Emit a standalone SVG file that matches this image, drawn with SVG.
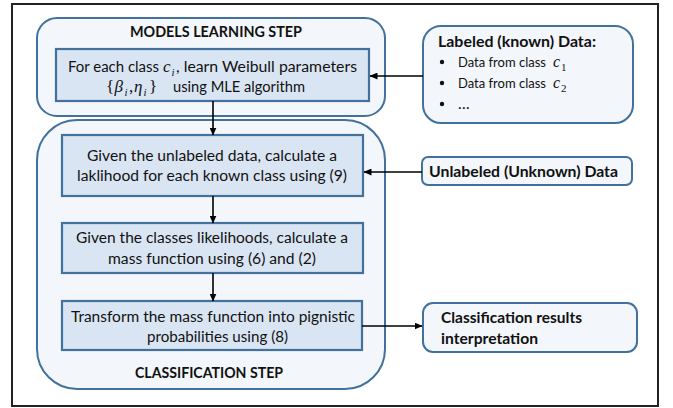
<svg xmlns="http://www.w3.org/2000/svg" width="673" height="408" viewBox="0 0 673 408">
<style>
.t{font-family:Lato,'Liberation Sans',sans-serif;font-size:15.5px;fill:#111}
.b{font-weight:bold}
.li{font-size:13.8px}
.m{font-family:'Liberation Serif','DejaVu Serif',serif;font-style:italic;font-size:17px}
.mc{font-family:'Liberation Serif','DejaVu Serif',serif;font-style:italic;font-size:16px}
.mu{font-family:'Liberation Serif','DejaVu Serif',serif;font-style:normal;font-size:17px}
.s{font-family:'Liberation Serif','DejaVu Serif',serif;font-style:italic;font-size:11px}
.su{font-family:'Liberation Serif','DejaVu Serif',serif;font-style:normal;font-size:11px}
.outer{fill:#f3f6fa;stroke:#41719c;stroke-width:2}
.inner{fill:#dae5f3;stroke:#41719c;stroke-width:2.2}
.conn line{stroke:#000;stroke-width:1.6;fill:none;marker-end:url(#ah)}
</style>
<defs>
<marker id="ah" markerUnits="userSpaceOnUse" markerWidth="8" markerHeight="7" refX="7.5" refY="3.5" orient="auto">
<path d="M0,0 L8,3.5 L0,7 z" fill="#000"/>
</marker>
</defs>
<rect x="12" y="4" width="646" height="402" fill="#fff" stroke="#222" stroke-width="2"/>

<g id="models-step">
<rect class="outer" x="37" y="18" width="348" height="98" rx="20"/>
<text class="t b" x="130" y="37" textLength="172" lengthAdjust="spacingAndGlyphs">MODELS LEARNING STEP</text>
</g>
<g id="learn-weibull">
<rect class="inner" x="56" y="49" width="313" height="52"/>
<text class="t" x="68" y="72"><tspan textLength="91" lengthAdjust="spacingAndGlyphs">For each class</tspan><tspan class="m" x="163">c</tspan><tspan class="s" x="171.5" y="76">i</tspan><tspan x="176" y="72" textLength="181" lengthAdjust="spacingAndGlyphs">, learn Weibull parameters</tspan></text>
<text class="t" x="106" y="92"><tspan class="mu">{</tspan><tspan class="m" x="114.5">β</tspan><tspan class="s" x="124.5" y="96">i</tspan><tspan class="mu" x="129" y="92">,</tspan><tspan class="m" x="134">η</tspan><tspan class="s" x="143.5" y="96">i</tspan><tspan class="mu" x="149" y="92">}</tspan><tspan x="173" textLength="132" lengthAdjust="spacingAndGlyphs">using MLE algorithm</tspan></text>
</g>

<g id="classification-step">
<rect class="outer" x="37" y="120" width="348" height="269" rx="40"/>
<text class="t b" x="135" y="378" textLength="148" lengthAdjust="spacingAndGlyphs">CLASSIFICATION STEP</text>
</g>
<g id="likelihood">
<rect class="inner" x="62" y="135" width="301" height="61"/>
<text class="t" x="87" y="161" textLength="250" lengthAdjust="spacingAndGlyphs">Given the unlabeled data, calculate a</text>
<text class="t" x="77" y="181" textLength="270" lengthAdjust="spacingAndGlyphs">laklihood for each known class using (9)</text>
</g>
<g id="mass-function">
<rect class="inner" x="62" y="223" width="301" height="50"/>
<text class="t" x="76" y="243" textLength="272" lengthAdjust="spacingAndGlyphs">Given the classes likelihoods, calculate a</text>
<text class="t" x="108" y="264" textLength="208" lengthAdjust="spacingAndGlyphs">mass function using (6) and (2)</text>
</g>
<g id="pignistic">
<rect class="inner" x="62" y="301" width="300" height="49"/>
<text class="t" x="71" y="322" textLength="284" lengthAdjust="spacingAndGlyphs">Transform the mass function into pignistic</text>
<text class="t" x="147" y="342" textLength="141" lengthAdjust="spacingAndGlyphs">probabilities using (8)</text>
</g>

<g id="labeled-data">
<rect class="outer" x="423" y="26" width="210" height="97" rx="18"/>
<text class="t b" x="438" y="47" textLength="158" lengthAdjust="spacingAndGlyphs">Labeled (known) Data:</text>
<circle cx="442" cy="62" r="2.2" fill="#111"/>
<circle cx="442" cy="83" r="2.2" fill="#111"/>
<circle cx="442" cy="104" r="2.2" fill="#111"/>
<text class="t li" x="458" y="67"><tspan textLength="88" lengthAdjust="spacingAndGlyphs">Data from class</tspan><tspan class="mc" x="553">c</tspan><tspan class="su" x="561" y="70.5">1</tspan></text>
<text class="t li" x="458" y="88"><tspan textLength="88" lengthAdjust="spacingAndGlyphs">Data from class</tspan><tspan class="mc" x="553">c</tspan><tspan class="su" x="561" y="91.5">2</tspan></text>
<text class="t" x="458" y="109">…</text>
</g>
<g id="unlabeled-data">
<rect class="outer" x="422" y="157" width="210" height="28" rx="6"/>
<text class="t b" x="429" y="177" textLength="189" lengthAdjust="spacingAndGlyphs">Unlabeled (Unknown) Data</text>
</g>
<g id="results">
<rect class="outer" x="423" y="303" width="214" height="49" rx="10"/>
<text class="t b" x="441" y="323" textLength="141" lengthAdjust="spacingAndGlyphs">Classification results</text>
<text class="t b" x="441" y="344" textLength="97" lengthAdjust="spacingAndGlyphs">interpretation</text>
</g>

<g id="connectors" class="conn">
<line x1="213" y1="101" x2="213" y2="135"/>
<line x1="213" y1="196" x2="213" y2="223"/>
<line x1="213" y1="273" x2="213" y2="301"/>
<line x1="423" y1="76" x2="370" y2="76"/>
<line x1="422" y1="172" x2="364" y2="172"/>
<line x1="362" y1="326" x2="422" y2="326"/>
</g>
</svg>
